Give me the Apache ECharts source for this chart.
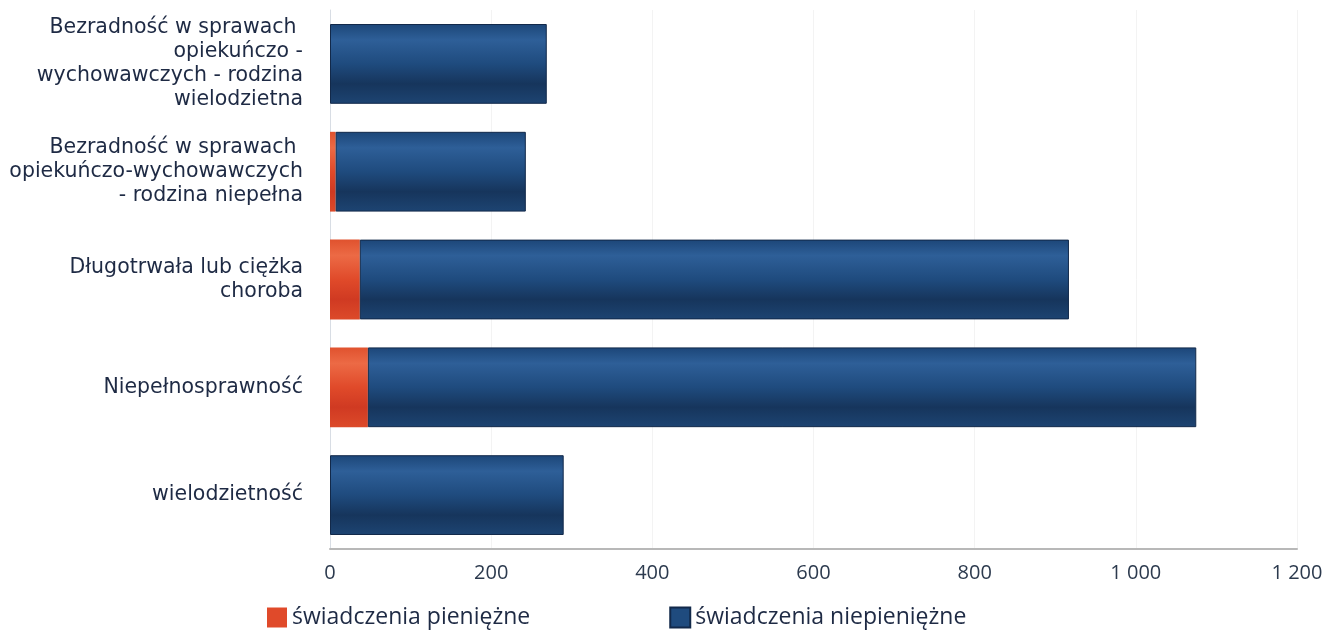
<!DOCTYPE html>
<html><head><meta charset="utf-8">
<script src="https://cdn.jsdelivr.net/npm/echarts@6/dist/echarts.min.js"></script>
<style>html,body{margin:0;padding:0;background:#fff}#c{width:1335px;height:634px}</style>
</head><body><div id="c"></div>
<script>
const categories = [
  "Bezradność w sprawach \nopiekuńczo -\nwychowawczych - rodzina\nwielodzietna",
  "Bezradność w sprawach \nopiekuńczo-wychowawczych\n- rodzina niepełna",
  "Długotrwała lub ciężka\nchoroba",
  "Niepełnosprawność",
  "wielodzietność"
];
const pieniezne = [0, 7, 37, 47, 0];
const niepieniezne = [269, 236, 880, 1028, 290];
const seriesNames = ["świadczenia pieniężne", "świadczenia niepieniężne"];
const xTicks = [0, 200, 400, 600, 800, 1000, 1200];

const blueGrad = new echarts.graphic.LinearGradient(0,0,0,1,[
  {offset:0,color:'#1c4678'},{offset:0.2,color:'#2e5f98'},{offset:0.5,color:'#1f4b7e'},
  {offset:0.75,color:'#16355c'},{offset:1,color:'#1d4472'}]);
const redGrad = new echarts.graphic.LinearGradient(0,0,0,1,[
  {offset:0,color:'#e0522e'},{offset:0.2,color:'#ec6a45'},{offset:0.5,color:'#e04a2a'},
  {offset:0.75,color:'#d03a22'},{offset:1,color:'#dc4a2a'}]);

const chart = echarts.init(document.getElementById('c'));
chart.setOption({
  animation:false,
  textStyle:{fontFamily:'Open Sans'},
  grid:{left:330,right:38,top:10,bottom:85,containLabel:false},
  legend:{bottom:0,left:262,itemGap:139,itemWidth:20,itemHeight:20,icon:'rect',
    textStyle:{fontSize:23,color:'#1e2a44',fontFamily:'Open Sans'},
    data:[{name:seriesNames[0],itemStyle:{color:'#e04a2a'}},{name:seriesNames[1],itemStyle:{color:'#1f4b7e'}}]},
  xAxis:{type:'value',min:0,max:1200,interval:200,
    axisLine:{show:true,lineStyle:{color:'#b8b8b8',width:2}},
    axisTick:{show:false},
    splitLine:{show:true,lineStyle:{color:'#f3f3f3'}},
    axisLabel:{fontSize:20,color:'#2c3a4e',margin:14,
      formatter:v=>xTicks.includes(v)?String(v).replace(/\B(?=(\d{3})+(?!\d))/g,' '):''}},
  yAxis:{type:'category',inverse:true,data:categories,
    axisLine:{show:true,lineStyle:{color:'#d8dde4',width:1}},
    axisTick:{show:false},
    axisLabel:{fontSize:20.5,fontFamily:'DejaVu Sans',color:'#1e2a44',lineHeight:24,margin:27,align:'right'}},
  series:[
    {name:seriesNames[0],type:'bar',stack:'a',data:pieniezne,barWidth:'74%',
     itemStyle:{color:redGrad}},
    {name:seriesNames[1],type:'bar',stack:'a',data:niepieniezne,barWidth:'74%',
     itemStyle:{color:blueGrad,borderColor:'#12294a',borderWidth:1}}
  ]
});
</script></body></html>
